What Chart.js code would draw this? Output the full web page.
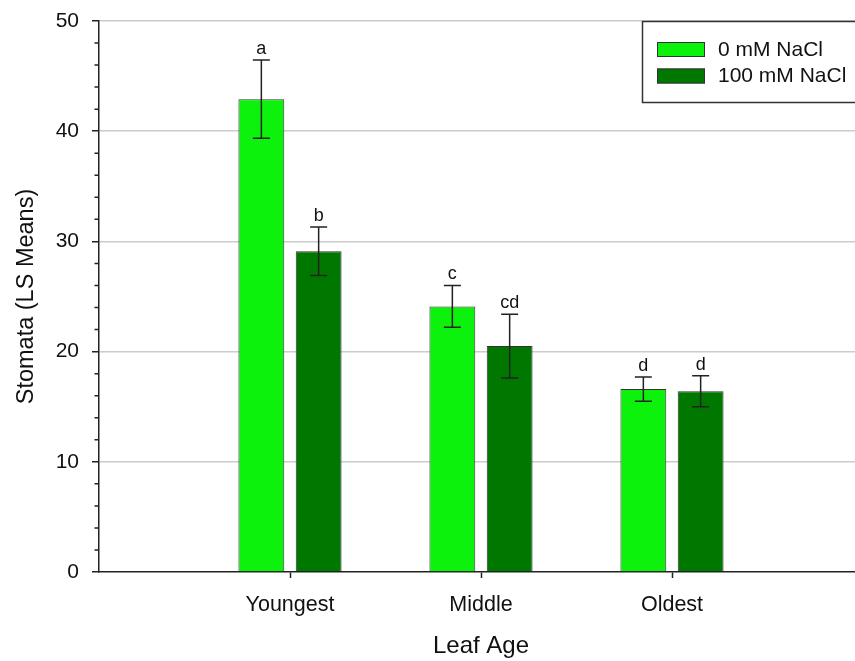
<!DOCTYPE html>
<html>
<head>
<meta charset="utf-8">
<script src="https://cdn.jsdelivr.net/npm/chart.js@4/dist/chart.umd.min.js"></script>
<style>
  html, body { margin: 0; padding: 0; overflow: hidden; background: #fff; width: 855px; height: 661px; }
  canvas { display: block; }
</style>
</head>
<body>
<canvas id="c" width="877" height="661"></canvas>
<script>
// Stomata counts (LS means) by leaf age and salt treatment
const leafAges = ['Youngest', 'Middle', 'Oldest'];
const seriesNames = ['0 mM NaCl', '100 mM NaCl'];
const control = [42.9, 24.1, 16.6];
const controlSE = [3.55, 1.9, 1.1];
const controlLetters = ['a', 'c', 'd'];
const salt = [29.1, 20.5, 16.4];
const saltSE = [2.2, 2.9, 1.4];
const saltLetters = ['b', 'cd', 'd'];
const yTickStep = 10;
const yMax = 50;

const FONT = '"Liberation Sans", Arial, Helvetica, sans-serif';
const INK = '#222222';

// empty slots at both ends leave room on either side of the groups
const pad = a => [null, ...a, null];
const axisLabels = pad(leafAges).map(v => v || '');

const errorBars = {
  id: 'errorBars',
  afterDatasetsDraw(chart) {
    const { ctx, scales: { y } } = chart;
    ctx.save();
    chart.data.datasets.forEach((ds, di) => {
      const meta = chart.getDatasetMeta(di);
      meta.data.forEach((bar, i) => {
        const v = ds.data[i];
        if (v == null) return;
        const se = ds.se[i];
        const yHi = y.getPixelForValue(v + se);
        const yLo = y.getPixelForValue(v - se);
        const x = bar.x;
        ctx.strokeStyle = INK;
        ctx.lineWidth = 1.5;
        ctx.beginPath();
        ctx.moveTo(x, yHi); ctx.lineTo(x, yLo);
        ctx.moveTo(x - 8.5, yHi); ctx.lineTo(x + 8.5, yHi);
        ctx.moveTo(x - 8.5, yLo); ctx.lineTo(x + 8.5, yLo);
        ctx.stroke();
        ctx.fillStyle = '#111';
        ctx.font = '18px ' + FONT;
        ctx.textAlign = 'center';
        ctx.textBaseline = 'alphabetic';
        ctx.fillText(ds.letters[i], x, yHi - 6);
      });
    });
    // minor ticks on the value axis
    const left = chart.chartArea.left;
    ctx.strokeStyle = INK;
    ctx.lineWidth = 1.5;
    ctx.beginPath();
    for (let t = 2; t < yMax; t += 2) {
      if (t % yTickStep === 0) continue;
      const py = y.getPixelForValue(t);
      ctx.moveTo(left - 4.5, py); ctx.lineTo(left, py);
    }
    ctx.stroke();
    ctx.restore();
  }
};

const boxedLegend = {
  id: 'boxedLegend',
  afterDraw(chart) {
    const { ctx } = chart;
    const x0 = 642.5, y0 = 21.5, w = 240, h = 81;
    ctx.save();
    ctx.fillStyle = '#fff';
    ctx.fillRect(x0, y0, w, h);
    ctx.strokeStyle = '#333';
    ctx.lineWidth = 1.5;
    ctx.strokeRect(x0, y0, w, h);
    chart.data.datasets.forEach((ds, i) => {
      const sy = 42 + i * 26.5;
      ctx.fillStyle = ds.backgroundColor;
      ctx.fillRect(657, sy, 48, 15);
      ctx.strokeStyle = '#333';
      ctx.lineWidth = 1;
      ctx.strokeRect(657.5, sy + 0.5, 47, 14);
      ctx.fillStyle = '#111';
      ctx.font = '21px ' + FONT;
      ctx.textAlign = 'left';
      ctx.textBaseline = 'middle';
      ctx.fillText(ds.label, 718, sy + 8);
    });
    ctx.restore();
  }
};

new Chart(document.getElementById('c'), {
  type: 'bar',
  data: {
    labels: axisLabels,
    datasets: [
      { label: seriesNames[0], data: pad(control), se: pad(controlSE), letters: pad(controlLetters),
        backgroundColor: '#0cf20c', borderColor: '#333', borderWidth: 1 },
      { label: seriesNames[1], data: pad(salt), se: pad(saltSE), letters: pad(saltLetters),
        backgroundColor: '#007800', borderColor: '#333', borderWidth: 1 }
    ]
  },
  options: {
    responsive: false,
    animation: false,
    events: [],
    categoryPercentage: 0.6,
    barPercentage: 0.8,
    layout: { padding: { top: 21, left: 0, right: 0, bottom: 0 } },
    plugins: { legend: { display: false }, tooltip: { enabled: false } },
    scales: {
      x: {
        type: 'category',
        offset: false,
        grid: {
          offset: false, drawOnChartArea: false, drawTicks: true, tickLength: 6, tickWidth: 1.5,
          tickColor: c => (c.index === 0 || c.index === axisLabels.length - 1) ? 'rgba(0,0,0,0)' : INK
        },
        border: { color: INK, width: 1.5 },
        ticks: { font: { family: FONT, size: 21.5 }, color: '#111', padding: 14, maxRotation: 0, autoSkip: false },
        title: { display: true, text: 'Leaf Age', color: '#111',
                 font: { family: FONT, size: 24, lineHeight: 1 }, padding: { top: 0, bottom: 3 } },
        afterFit: s => { s.height = 89; }
      },
      y: {
        min: 0, max: yMax,
        ticks: { stepSize: yTickStep, font: { family: FONT, size: 21 }, color: '#111', padding: 13 },
        grid: {
          color: c => c.tick && c.tick.value === 0 ? 'rgba(0,0,0,0)' : '#cccccc',
          lineWidth: 1.5, tickLength: 7, tickWidth: 1.5, tickColor: INK
        },
        border: { color: INK, width: 1.5 },
        title: { display: true, text: 'Stomata (LS Means)', color: '#111',
                 font: { family: FONT, size: 23.5, lineHeight: 1 }, padding: { top: 15, bottom: 0 } },
        afterFit: s => { s.width = 99; s.paddingTop = 0; s.paddingBottom = 0; }
      }
    }
  },
  plugins: [errorBars, boxedLegend]
});
</script>
</body>
</html>
